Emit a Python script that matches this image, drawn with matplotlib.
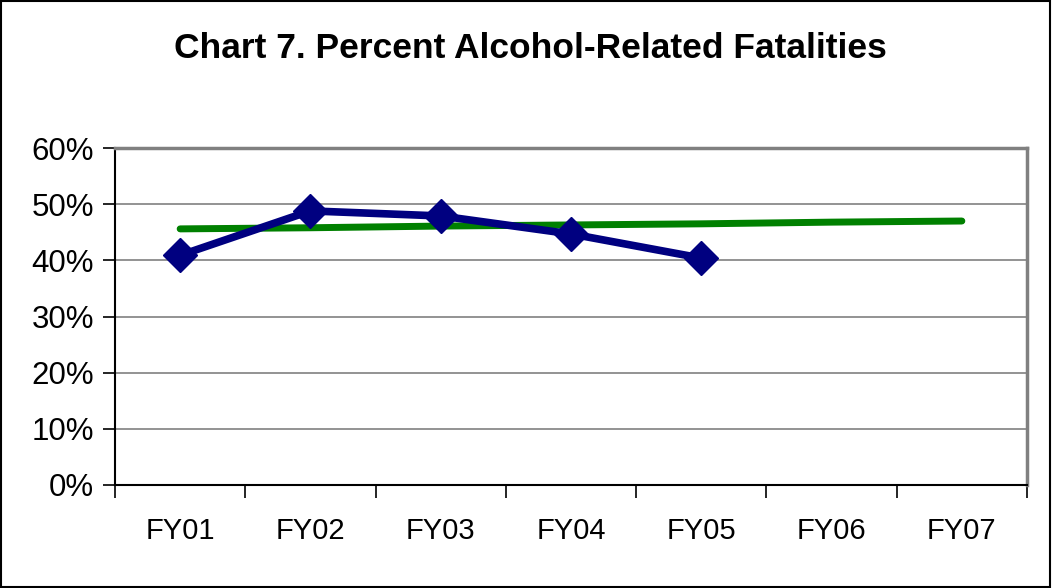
import matplotlib.pyplot as plt
from matplotlib.patches import Rectangle
from matplotlib.ticker import FuncFormatter

plt.rcParams['font.family'] = ['Liberation Sans', 'DejaVu Sans']

# Datos
categorias = ['FY01', 'FY02', 'FY03', 'FY04', 'FY05', 'FY06', 'FY07']
porcentaje = [40.9, 48.8, 47.9, 44.7, 40.4]
tendencia = [45.6, 45.8, 46.1, 46.3, 46.5, 46.8, 47.0]
yticks = [0, 10, 20, 30, 40, 50, 60]

fig = plt.figure(figsize=(10.52, 5.88), dpi=100)
ax = fig.add_axes([115 / 1052, 1 - 485 / 588, (1027 - 115) / 1052, (485 - 148) / 588])

# Marco exterior
fig.patches.append(Rectangle((0.001, 0.001), 0.997, 0.997, transform=fig.transFigure,
                             fill=False, edgecolor='black', linewidth=1.5))

x = list(range(len(categorias)))
ax.plot(x, tendencia, color='#008000', linewidth=5, solid_capstyle='round', zorder=3)
ax.plot(x[:len(porcentaje)], porcentaje, color='#000080', linewidth=5.5,
        marker='D', markersize=17, zorder=4)

ax.set_xlim(-0.5, len(categorias) - 0.5)
ax.set_ylim(0, 60)
ax.set_yticks(yticks)
ax.yaxis.set_major_formatter(FuncFormatter(lambda v, p: f'{v:.0f}%'))
ax.set_xticks([i - 0.5 for i in range(len(categorias) + 1)], minor=False)
ax.set_xticklabels([])
ax.set_xticks(x, minor=True)
ax.set_xticklabels(categorias, minor=True)
ax.tick_params(axis='x', which='minor', length=0, pad=23, labelsize=21)
ax.tick_params(axis='x', which='major', length=9, width=1.2, direction='out')
ax.tick_params(axis='y', length=9, width=1.2, direction='out', labelsize=22.5, pad=6)

ax.grid(axis='y', color='#808080', linewidth=1.2)
ax.set_axisbelow(True)
for s in ['top', 'right']:
    ax.spines[s].set_color('#808080')
    ax.spines[s].set_linewidth(2.5)
for s in ['left', 'bottom']:
    ax.spines[s].set_color('black')
    ax.spines[s].set_linewidth(1.5)

fig.text(530 / 1052, 1 - 49 / 588, 'Chart 7. Percent Alcohol-Related Fatalities',
         ha='center', va='center', fontsize=25.5, fontweight='bold')

fig.savefig('out.png', dpi=100)
